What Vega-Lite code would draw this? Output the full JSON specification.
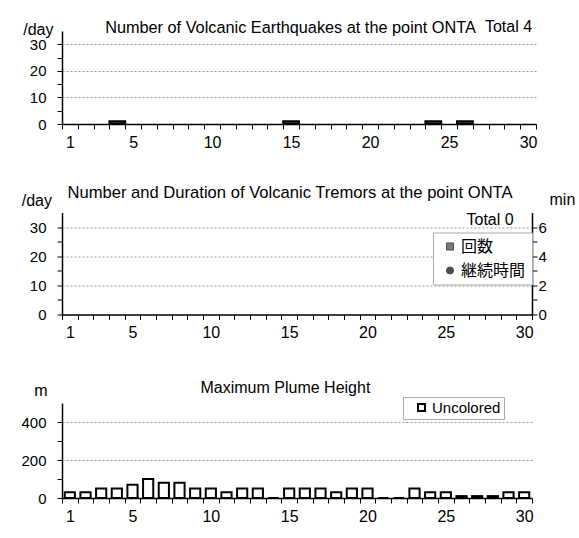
{
  "$schema": "https://vega.github.io/schema/vega-lite/v6.json",
  "padding": {"left": 20, "top": 19, "right": 5, "bottom": 5},
  "bounds": "flush",
  "spacing": 88.5,
  "resolve": {"scale": {"color": "independent", "shape": "independent", "fill": "independent"}, "legend": {"color": "independent", "shape": "independent", "fill": "independent"}},
  "vconcat": [
    {
      "width": 474,
      "height": 93,
      "title": {"text": "Number of Volcanic Earthquakes at the point ONTA", "anchor": "middle", "frame": "group", "dx": -8.5, "offset": -30, "baseline": "alphabetic", "fontSize": 16.3},
      "layer": [
        {
          "data": {"values": [{"day": 4, "count": 1}, {"day": 15, "count": 1}, {"day": 24, "count": 1}, {"day": 26, "count": 1}]},
          "mark": {"type": "bar", "fill": "#3a3a3a", "stroke": "black", "strokeWidth": 2, "width": {"band": 1}},
          "encoding": {
            "x": {"field": "day", "type": "ordinal",
              "scale": {"domain": [1,2,3,4,5,6,7,8,9,10,11,12,13,14,15,16,17,18,19,20,21,22,23,24,25,26,27,28,29,30], "paddingInner": 0, "paddingOuter": 0},
              "axis": {"values": [1,2,3,4,5,6,7,8,9,10,11,12,13,14,15,16,17,18,19,20,21,22,23,24,25,26,27,28,29,30], "tickBand": "extent", "labelExpr": "indexof([1,5,10,15,20,25,30], datum.value) >= 0 ? datum.label : ''", "labelAngle": 0, "labelFontSize": 16, "labelPadding": 5, "tickSize": 5, "title": null, "grid": false, "domainWidth": 1.5, "labelOverlap": false}},
            "y": {"field": "count", "type": "quantitative", "scale": {"domain": [0, 35]},
              "axis": {"values": [0,5,10,15,20,25,30], "tickCount": 100, "format": "d", "labelExpr": "datum.value % 10 === 0 ? datum.label : ''", "grid": true, "gridColor": "#999", "gridDash": [2, 2], "gridOpacity": {"condition": {"test": "datum.value % 10 === 0 && datum.value > 0", "value": 1}, "value": 0}, "title": "/day", "titleAngle": 0, "titleAlign": "right", "titleBaseline": "alphabetic", "titleX": -9, "titleY": 3, "titleFontSize": 16, "titleFontWeight": "normal", "tickSize": 5, "labelPadding": 11, "labelFontSize": 15, "domainWidth": 1.5, "labelOverlap": false}}
          }
        },
        {
          "data": {"values": [{"label": "Total 4"}]},
          "mark": {"type": "text", "align": "right", "baseline": "alphabetic", "dx": 4, "fontSize": 16},
          "encoding": {"x": {"datum": 30, "type": "ordinal"}, "y": {"datum": 34.62, "type": "quantitative"}, "text": {"field": "label"}}
        }
      ]
    },
    {
      "width": 470,
      "height": 102,
      "title": {"text": "Number and Duration of Volcanic Tremors at the point ONTA", "anchor": "middle", "frame": "group", "dx": -7, "offset": -23, "baseline": "alphabetic", "fontSize": 16.6},
      "resolve": {"scale": {"y": "independent"}},
      "layer": [
        {
          "layer": [
            {
              "data": {"values": []},
              "mark": {"type": "bar", "fill": "#3a3a3a", "stroke": "black", "strokeWidth": 2, "width": {"band": 1}},
              "encoding": {
                "x": {"field": "day", "type": "ordinal",
                  "scale": {"domain": [1,2,3,4,5,6,7,8,9,10,11,12,13,14,15,16,17,18,19,20,21,22,23,24,25,26,27,28,29,30], "paddingInner": 0, "paddingOuter": 0},
                  "axis": {"values": [1,2,3,4,5,6,7,8,9,10,11,12,13,14,15,16,17,18,19,20,21,22,23,24,25,26,27,28,29,30], "tickBand": "extent", "labelExpr": "indexof([1,5,10,15,20,25,30], datum.value) >= 0 ? datum.label : ''", "labelAngle": 0, "labelFontSize": 16, "labelPadding": 5, "tickSize": 5, "title": null, "grid": false, "domainWidth": 1.5, "labelOverlap": false}},
                "y": {"field": "count", "type": "quantitative", "scale": {"domain": [0, 35]},
                  "axis": {"values": [0,5,10,15,20,25,30], "tickCount": 100, "format": "d", "labelExpr": "datum.value % 10 === 0 ? datum.label : ''", "grid": true, "gridColor": "#999", "gridDash": [2, 2], "gridOpacity": {"condition": {"test": "datum.value % 10 === 0 && datum.value > 0", "value": 1}, "value": 0}, "title": "/day", "titleAngle": 0, "titleAlign": "right", "titleBaseline": "alphabetic", "titleX": -10.5, "titleY": -7, "titleFontSize": 16, "titleFontWeight": "normal", "tickSize": 5, "labelPadding": 11, "labelFontSize": 15, "domainWidth": 1.5, "labelOverlap": false}}
              }
            },
            {
              "data": {"values": [{"label": "Total 0"}]},
              "mark": {"type": "text", "align": "right", "baseline": "alphabetic", "dx": -10.5, "fontSize": 16},
              "encoding": {"x": {"datum": 30, "type": "ordinal"}, "y": {"datum": 30.6, "type": "quantitative"}, "text": {"field": "label"}}
            }
          ]
        },
        {
          "data": {"values": []},
          "mark": {"type": "point", "filled": true, "size": 50},
          "encoding": {
            "x": {"field": "day", "type": "ordinal"},
            "y": {"field": "duration", "type": "quantitative", "scale": {"domain": [0, 7]},
              "axis": {"orient": "right", "values": [0,1,2,3,4,5,6], "tickCount": 100, "format": "d", "labelExpr": "datum.value % 2 === 0 ? datum.label : ''", "grid": false, "title": "min", "titleAngle": 0, "titleAlign": "left", "titleBaseline": "alphabetic", "titleX": 17, "titleY": -8, "titleFontSize": 16, "titleFontWeight": "normal", "tickSize": 5, "labelPadding": 1, "labelFontSize": 15, "domainWidth": 1.5, "labelOverlap": false}},
            "color": {"field": "series", "type": "nominal", "scale": {"domain": ["回数", "継続時間"], "range": ["#444444", "black"]},
              "legend": {"orient": "none", "legendX": 371, "legendY": 20, "title": null, "strokeColor": "#aaaaaa", "fillColor": "white", "padding": 6, "labelFontSize": 16, "labelFont": "Noto Sans CJK JP", "symbolSize": 50, "rowPadding": 8, "labelOffset": 3, "symbolOffset": 3, "symbolStrokeColor": "black", "symbolStrokeWidth": 1}},
            "shape": {"field": "series", "type": "nominal", "scale": {"domain": ["回数", "継続時間"], "range": ["square", "circle"]},
              "legend": {"orient": "none", "legendX": 371, "legendY": 20, "title": null, "strokeColor": "#aaaaaa", "fillColor": "white", "padding": 6, "labelFontSize": 16, "labelFont": "Noto Sans CJK JP", "symbolSize": 50, "rowPadding": 8, "labelOffset": 3, "symbolOffset": 3, "symbolStrokeColor": "black", "symbolStrokeWidth": 1}}
          }
        }
      ]
    },
    {
      "width": 470,
      "height": 95,
      "title": {"text": "Maximum Plume Height", "anchor": "middle", "frame": "group", "dx": -11.6, "offset": -27, "baseline": "alphabetic"},
      "data": {"values": [
        {"day": 1, "height": 30, "color": "Uncolored"},
        {"day": 2, "height": 30, "color": "Uncolored"},
        {"day": 3, "height": 50, "color": "Uncolored"},
        {"day": 4, "height": 50, "color": "Uncolored"},
        {"day": 5, "height": 70, "color": "Uncolored"},
        {"day": 6, "height": 100, "color": "Uncolored"},
        {"day": 7, "height": 80, "color": "Uncolored"},
        {"day": 8, "height": 80, "color": "Uncolored"},
        {"day": 9, "height": 50, "color": "Uncolored"},
        {"day": 10, "height": 50, "color": "Uncolored"},
        {"day": 11, "height": 30, "color": "Uncolored"},
        {"day": 12, "height": 50, "color": "Uncolored"},
        {"day": 13, "height": 50, "color": "Uncolored"},
        {"day": 14, "height": 0, "color": "Uncolored"},
        {"day": 15, "height": 50, "color": "Uncolored"},
        {"day": 16, "height": 50, "color": "Uncolored"},
        {"day": 17, "height": 50, "color": "Uncolored"},
        {"day": 18, "height": 30, "color": "Uncolored"},
        {"day": 19, "height": 50, "color": "Uncolored"},
        {"day": 20, "height": 50, "color": "Uncolored"},
        {"day": 21, "height": 0, "color": "Uncolored"},
        {"day": 22, "height": 0, "color": "Uncolored"},
        {"day": 23, "height": 50, "color": "Uncolored"},
        {"day": 24, "height": 30, "color": "Uncolored"},
        {"day": 25, "height": 30, "color": "Uncolored"},
        {"day": 26, "height": 10, "color": "Uncolored"},
        {"day": 27, "height": 10, "color": "Uncolored"},
        {"day": 28, "height": 10, "color": "Uncolored"},
        {"day": 29, "height": 30, "color": "Uncolored"},
        {"day": 30, "height": 30, "color": "Uncolored"}
      ]},
      "mark": {"type": "bar", "stroke": "black", "strokeWidth": 2, "width": {"band": 0.65}},
      "encoding": {
        "x": {"field": "day", "type": "ordinal",
          "scale": {"domain": [1,2,3,4,5,6,7,8,9,10,11,12,13,14,15,16,17,18,19,20,21,22,23,24,25,26,27,28,29,30], "paddingInner": 0, "paddingOuter": 0},
          "axis": {"values": [1,2,3,4,5,6,7,8,9,10,11,12,13,14,15,16,17,18,19,20,21,22,23,24,25,26,27,28,29,30], "tickBand": "extent", "labelExpr": "indexof([1,5,10,15,20,25,30], datum.value) >= 0 ? datum.label : ''", "labelAngle": 0, "labelFontSize": 16, "labelPadding": 5, "tickSize": 5, "title": null, "grid": false, "domainWidth": 1.5, "labelOverlap": false}},
        "y": {"field": "height", "type": "quantitative", "scale": {"domain": [0, 500]},
          "axis": {"values": [0,100,200,300,400], "tickCount": 100, "format": "d", "labelExpr": "datum.value % 200 === 0 ? datum.label : ''", "grid": true, "gridColor": "#999", "gridDash": [2, 2], "gridOpacity": {"condition": {"test": "datum.value % 200 === 0 && datum.value > 0", "value": 1}, "value": 0}, "title": "m", "titleAngle": 0, "titleAlign": "right", "titleBaseline": "alphabetic", "titleX": -15, "titleY": -8, "titleFontSize": 16, "titleFontWeight": "normal", "tickSize": 5, "labelPadding": 11, "labelFontSize": 15, "domainWidth": 1.5, "labelOverlap": false}},
        "fill": {"field": "color", "type": "nominal", "scale": {"domain": ["Uncolored"], "range": ["white"]},
          "legend": {"orient": "none", "legendX": 341, "legendY": -6, "title": null, "strokeColor": "#aaaaaa", "fillColor": "white", "padding": 3, "labelFontSize": 15, "symbolType": "square", "symbolSize": 49, "symbolOffset": 8, "symbolStrokeColor": "black", "symbolStrokeWidth": 2, "labelOffset": 3}}
      }
    }
  ],
  "config": {
    "view": {"stroke": null},
    "font": "Liberation Sans",
    "axis": {"domainColor": "black", "tickColor": "black", "labelColor": "black", "titleColor": "black", "labelFont": "Liberation Sans", "titleFont": "Liberation Sans"},
    "title": {"font": "Liberation Sans", "fontSize": 16, "fontWeight": "normal", "color": "black"},
    "text": {"font": "Liberation Sans", "color": "black"},
    "legend": {"labelFont": "Liberation Sans, Noto Sans CJK JP", "labelColor": "black"}
  }
}
